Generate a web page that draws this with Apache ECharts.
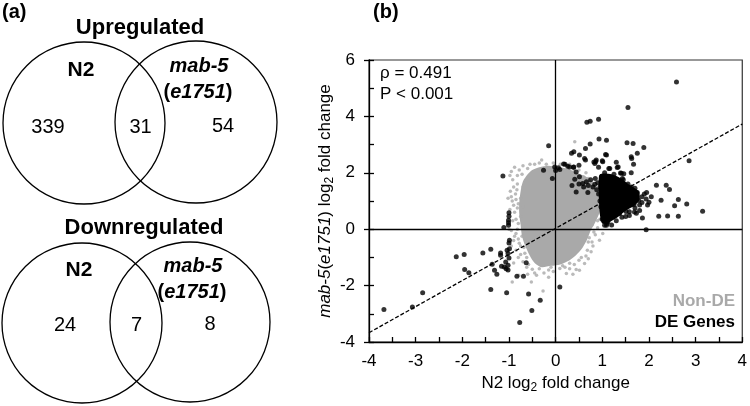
<!DOCTYPE html>
<html>
<head>
<meta charset="utf-8">
<script src="https://cdn.jsdelivr.net/npm/echarts@6/dist/echarts.min.js"></script>
<style>
html, body { margin: 0; padding: 0; background: #fff; }
#chart { width: 750px; height: 406px; }
</style>
</head>
<body>
<div id="chart"></div>
<script>
// ---- data ----
var vennTitles = ['Upregulated', 'Downregulated'];
var upCounts = [339, 31, 54];      // N2 only, both, mab-5 only
var downCounts = [24, 7, 8];
var statLines = ['ρ = 0.491', 'P < 0.001'];
var legendNames = ['Non-DE', 'DE Genes'];

// trend line end points
var fitX = [-4, 4];
var fitY = [-3.67, 3.73];

// outline of the dense grey (non-DE) cloud
var nonDeCore = [
  [-0.5, 2.1], [-0.35, 2.2], [-0.15, 2.25], [0.05, 2.2], [0.25, 2.15], [0.45, 2.0],
  [0.6, 1.9], [0.75, 1.75], [0.88, 1.5], [0.95, 1.2], [0.97, 0.9], [0.93, 0.55],
  [0.85, 0.25], [0.75, -0.05], [0.68, -0.35], [0.58, -0.65], [0.45, -0.9], [0.3, -1.1],
  [0.1, -1.25], [-0.1, -1.3], [-0.3, -1.35], [-0.45, -1.2], [-0.55, -0.95], [-0.65, -0.6],
  [-0.72, -0.25], [-0.75, 0.15], [-0.78, 0.55], [-0.78, 0.95], [-0.75, 1.35], [-0.7, 1.7],
  [-0.6, 1.95]
];
// scattered grey points around the cloud
var nonDePoints = [
  [-0.95, 2.05], [-0.88, 2.2], [-0.78, 2.1], [-0.72, 1.95], [-0.92, 1.75], [-0.82, 1.6],
  [-0.7, 1.5], [-0.97, 1.35], [-0.86, 1.25], [-0.75, 1.1], [-0.93, 1.0], [-0.8, 0.9],
  [-0.7, 0.8], [-0.98, 0.7], [-0.88, 0.6], [-0.75, 0.45], [-0.92, 0.3], [-0.8, 0.2],
  [-0.7, 0.05], [-0.95, -0.05], [-0.85, -0.15], [-0.72, -0.25], [-0.9, -0.4], [-0.78, -0.5],
  [-0.68, -0.65], [-0.85, -0.75], [-0.75, -0.9], [-0.62, -1.0], [-0.7, -1.15], [-0.58, -1.25],
  [-0.79, -1.63], [-0.93, -1.87], [-0.52, -1.87], [-0.27, -2.19], [-0.41, -1.63], [-0.5, -1.42],
  [-0.35, -1.4], [-0.15, -1.45], [0.09, -1.39], [0.23, -1.57], [0.3, -1.21], [0.44, -1.43],
  [0.51, -1.46], [0.37, -1.6], [0.62, -1.22], [0.15, -1.3], [-0.1, -1.35],
  [0.76, -0.8], [0.8, -0.6], [0.94, -0.39], [1.01, -0.15], [0.7, -0.45], [0.85, -0.2],
  [0.65, -0.95], [0.5, -1.1], [0.9, 0.05], [0.78, 0.15], [0.95, 0.35], [0.88, 0.55],
  [0.6, 0.0], [0.72, -0.3],
  [-0.55, 2.3], [-0.35, 2.35], [-0.6, 2.15], [-0.2, 2.3], [0.1, 2.3], [0.25, 2.25],
  [0.4, 2.1], [0.41, 3.1], [-0.3, 2.45], [0.6, 1.85], [0.7, 1.8],
  [-0.82, 1.9], [-0.9, 1.5], [-0.83, 1.4], [-0.95, 1.15], [-0.85, 1.05], [-0.82, 0.75],
  [-0.9, 0.85], [-0.85, 0.35], [-0.82, 0.0], [-0.88, -0.25], [-0.8, -0.35], [-0.75, -0.6],
  [-0.8, -1.0], [-0.66, -0.85], [-0.62, -1.35], [-0.45, -1.55], [-0.25, -1.55], [-0.05, -1.5],
  [0.2, -1.35], [0.4, -1.25], [0.55, -1.0], [0.68, -0.75], [0.78, -0.45], [0.82, -0.1],
  [0.9, 0.3], [1.0, 0.6], [0.65, 2.0], [0.5, 2.1], [0.3, 2.3], [-0.05, 2.35],
  [-0.45, 2.3], [-0.7, 2.25], [-0.98, 1.9], [-1.02, 1.1], [-1.0, 0.0], [-0.95, -0.6],
  [-0.9, -1.2], [-0.6, -1.6], [-0.15, -1.7], [0.3, -1.4], [0.7, -1.05]
];

// outline of the dense black (DE) clump
var deCore = [
  [0.95, 1.95], [1.2, 1.95], [1.4, 1.8], [1.6, 1.55], [1.78, 1.35], [1.8, 1.05],
  [1.7, 0.85], [1.5, 0.65], [1.35, 0.45], [1.15, 0.25], [1.0, 0.2], [0.95, 0.5],
  [0.93, 1.0], [0.92, 1.5]
];
// individual DE genes
var dePoints = [
  [-3.68, -2.85], [-3.07, -2.76], [-2.85, -2.25], [-2.13, -0.98], [-1.96, -0.9], [-1.95, -1.43],
  [-1.86, -1.54], [-1.56, -0.84], [-1.39, -0.71], [-1.36, -1.24], [-1.31, -1.46], [-1.26, -1.6],
  [-1.39, -2.14], [-1.18, -0.84], [-1.18, -0.92], [-1.16, -1.31], [-1.1, -1.34], [-1.07, -1.16],
  [-1.06, -1.4], [-1.02, -1.28], [-1.02, -1.45], [-1.04, -0.75], [-1.02, -0.86], [-1.0, -0.49],
  [-1.0, -1.02], [-1.05, -2.25], [-1.11, 0.06], [-1.01, 0.14], [-1.01, 0.32], [-1.0, 0.58],
  [-1.0, 0.46], [-1.01, 0.23], [-0.83, -1.67], [-0.69, -1.67], [-0.63, -1.19], [-0.77, -3.31],
  [-0.58, -2.3], [-0.51, -2.88], [-0.33, -2.52], [0.09, -2.05], [-1.13, 1.89], [-0.99, -0.39],
  [-0.99, -0.69],
  [-0.15, 2.96], [-0.26, 2.09], [-0.07, 1.8], [-0.02, 2.21], [0.0, 2.08], [0.09, 2.12],
  [0.2, 2.3], [0.3, 2.21], [0.39, 2.21], [0.44, 2.03], [0.5, 2.27], [0.34, 2.69],
  [0.39, 2.75], [0.51, 2.63], [0.64, 2.86], [0.74, 3.02], [0.93, 3.2], [1.09, 3.15],
  [1.53, 3.07], [0.62, 2.51], [0.84, 2.33], [0.86, 2.4], [1.01, 2.39], [1.09, 2.63],
  [1.3, 2.37], [1.41, 1.98], [1.43, 1.8], [0.44, 1.32], [0.69, 1.3], [0.84, 1.59],
  [0.66, 1.68], [0.51, 1.86], [0.58, 1.62], [0.41, 1.77],
  [1.55, 4.32], [0.67, 3.79], [0.74, 3.83], [0.92, 3.9], [1.66, 3.04], [1.89, 2.9],
  [1.75, 2.69], [1.63, 2.51], [0.64, 2.45], [0.87, 2.45], [0.82, 2.38], [1.07, 2.65],
  [1.0, 2.43], [1.32, 2.19], [1.14, 2.15], [0.92, 2.2], [2.86, 2.43], [0.17, 2.31],
  [0.26, 2.23], [0.38, 2.2], [0.06, 2.18], [2.59, 5.22], [1.62, 2.0], [1.67, 2.3],
  [1.46, 1.97], [1.39, 1.99],
  [3.15, 0.64], [1.94, -0.02], [2.16, 1.56], [2.37, 1.56], [2.44, 1.41], [2.63, 1.05],
  [2.81, 0.89], [2.55, 0.83], [2.26, 1.03], [2.21, 0.46], [2.4, 0.47], [2.63, 0.46],
  [1.86, 0.4], [1.62, 2.57], [1.34, 2.21], [1.16, 2.15], [1.94, 1.07], [2.0, 0.96],
  [1.8, 0.66], [1.73, 0.57], [1.97, 0.86], [1.8, 0.86], [1.23, 0.44], [1.09, 0.26],
  [1.05, 0.14], [1.12, 0.26], [1.37, 0.56], [1.51, 0.63], [1.69, 0.61], [1.58, 0.49],
  [1.09, 0.14], [1.1, 0.2],
  [0.35, 1.55], [0.5, 1.6], [0.6, 1.5], [0.7, 1.55], [0.8, 1.5], [0.88, 1.4],
  [0.75, 1.75], [0.85, 1.8], [0.9, 1.65], [0.95, 1.5], [0.92, 1.25], [0.95, 1.0],
  [1.85, 1.15], [1.9, 1.25], [1.7, 1.45], [1.55, 1.6], [1.45, 1.75], [1.25, 1.95],
  [1.05, 2.0], [0.98, 1.85], [1.7, 0.75], [1.5, 0.45], [1.3, 0.3], [1.0, 0.35],
  [0.97, 0.8], [1.2, 0.15], [2.05, 1.15], [1.95, 1.3],
  [1.78, 1.02], [1.75, 1.3], [1.62, 1.5], [1.35, 1.72], [1.58, 0.62], [1.42, 0.42],
  [1.85, 0.95], [1.68, 0.88]
];

var FONT = '"Liberation Sans", Arial, sans-serif';
var GREY = '#a9a9a9';

function cloudSeries(pts, color, z) {
  return {
    type: 'custom',
    z: z,
    silent: true,
    data: pts,
    renderItem: function (params, api) {
      if (params.dataIndex !== 0) return null;
      var poly = pts.map(function (p) { return api.coord(p); });
      return { type: 'polygon', shape: { points: poly, smooth: 0.25 }, style: { fill: color } };
    }
  };
}

function txt(x, y, text, font, color, align, rich) {
  var style = {
    text: text, font: font, fill: color || '#000',
    align: align || 'center', textAlign: align || 'center',
    verticalAlign: 'middle', textVerticalAlign: 'middle'
  };
  if (rich) style.rich = rich;
  return { type: 'text', x: x, y: y, style: style };
}

function circle(cx, cy, r) {
  return { type: 'circle', shape: { cx: cx, cy: cy, r: r }, style: { fill: 'none', stroke: '#000', lineWidth: 1.3 } };
}

var mabRich = {
  b: { fontFamily: FONT, fontSize: 20, fontWeight: 'bold', fill: '#000' },
  bi: { fontFamily: FONT, fontSize: 20, fontWeight: 'bold', fontStyle: 'italic', fill: '#000' }
};

function venn(y0, counts, title, titleX, c1, c2, numY) {
  return [
    txt(titleX, y0, title, 'bold 22px ' + FONT),
    circle(c1[0], c1[1], c1[2]),
    circle(c2[0], c2[1], c2[2]),
    txt(c1[0] - 3, c1[1] - 53, 'N2', 'bold 21px ' + FONT),
    txt(c2[0] + 3, c2[1] - 56, '{bi|mab-5}', '20px ' + FONT, '#000', 'center', mabRich),
    txt(c2[0] + 2, c2[1] - 30, '{b|(}{bi|e1751}{b|)}', '20px ' + FONT, '#000', 'center', mabRich),
    txt(c1[0] - 36 + (counts[0] > 99 ? 0 : 19), numY, String(counts[0]), '20px ' + FONT),
    txt((c1[0] + c2[0]) / 2 + 0.5, numY, String(counts[1]), '20px ' + FONT),
    txt(c2[0] + 27 + (counts[2] > 9 ? 0 : -7), numY - 1, String(counts[2]), '20px ' + FONT)
  ];
}

var graphics = [
  txt(2, 12, '(a)', 'bold 20px ' + FONT, '#000', 'left'),
  txt(373, 12, '(b)', 'bold 20px ' + FONT, '#000', 'left')
]
  .concat(venn(28, upCounts, vennTitles[0], 140, [84, 123, 81], [196, 122, 81], 127))
  .concat(venn(228, downCounts, vennTitles[1], 144, [82, 323, 80], [190, 322, 80], 325))
  .concat([
    txt(380, 73, statLines[0], '17px ' + FONT, '#000', 'left'),
    txt(380, 94, statLines[1], '17px ' + FONT, '#000', 'left'),
    txt(735, 301, legendNames[0], 'bold 17px ' + FONT, GREY, 'right'),
    txt(735, 322, legendNames[1], 'bold 17px ' + FONT, '#000', 'right')
  ]);

var axisLineStyle = { color: '#000', width: 1.3 };
var nameRich = {
  a: { fontFamily: FONT, fontSize: 17, color: '#000' },
  i: { fontFamily: FONT, fontSize: 17, color: '#000', fontStyle: 'italic' },
  s: { fontFamily: FONT, fontSize: 12, color: '#000', padding: [9, 0, 0, 0] }
};

var chart = echarts.init(document.getElementById('chart'));
chart.setOption({
  animation: false,
  backgroundColor: '#fff',
  textStyle: { fontFamily: FONT },
  grid: { left: 369, right: 7, top: 60, bottom: 64, show: true, borderColor: '#333', borderWidth: 1.2 },
  xAxis: {
    type: 'value', min: -4, max: 4, interval: 1,
    name: '{a|N2 log}{s|2}{a| fold change}', nameLocation: 'middle', nameGap: 30,
    nameTextStyle: { rich: nameRich },
    axisLine: { show: true, onZero: false, lineStyle: axisLineStyle },
    axisTick: { show: true, inside: true, length: 5, lineStyle: axisLineStyle },
    minorTick: { show: true, splitNumber: 2, length: 5, lineStyle: axisLineStyle },
    axisLabel: { fontSize: 17, color: '#000', margin: 11, fontFamily: FONT },
    splitLine: { show: false }
  },
  yAxis: [{
    type: 'value', min: -4, max: 6, interval: 2,
    name: '{i|mab-5}{a|(}{i|e1751}{a|) log}{s|2}{a| fold change}', nameLocation: 'middle',
    nameRotate: 90, nameGap: 29,
    nameTextStyle: { rich: nameRich },
    axisLine: { show: true, onZero: false, lineStyle: axisLineStyle },
    axisTick: { show: true, inside: false, length: 5, lineStyle: axisLineStyle },
    axisLabel: { fontSize: 17, color: '#000', margin: 14, fontFamily: FONT },
    splitLine: { show: false }
  }, {
    type: 'value', min: -4, max: 6, interval: 1, position: 'left',
    axisLine: { show: false, onZero: false },
    axisTick: { show: true, inside: true, length: 5, lineStyle: axisLineStyle },
    axisLabel: { show: false },
    splitLine: { show: false }
  }],
  graphic: { elements: graphics },
  series: [
    {
      type: 'line', z: 1, data: [], symbol: 'none',
      markLine: {
        silent: true, symbol: 'none', animation: false,
        label: { show: false },
        lineStyle: { color: '#000', width: 1.3, type: 'solid' },
        data: [{ xAxis: 0 }, { yAxis: 0 }]
      }
    },
    cloudSeries(nonDeCore, GREY, 2),
    {
      type: 'scatter', z: 2, data: nonDePoints, symbolSize: 3.5,
      itemStyle: { color: GREY }, silent: true
    },
    {
      type: 'line', z: 3, data: fitX.map(function (x, i) { return [x, fitY[i]]; }),
      symbol: 'none', silent: true,
      lineStyle: { color: '#000', width: 1.3, type: [4, 2] }
    },
    cloudSeries(deCore, '#000', 4),
    {
      type: 'scatter', z: 4, data: dePoints, symbolSize: 5,
      itemStyle: { color: '#000' }, silent: true
    }
  ]
});
</script>
</body>
</html>
